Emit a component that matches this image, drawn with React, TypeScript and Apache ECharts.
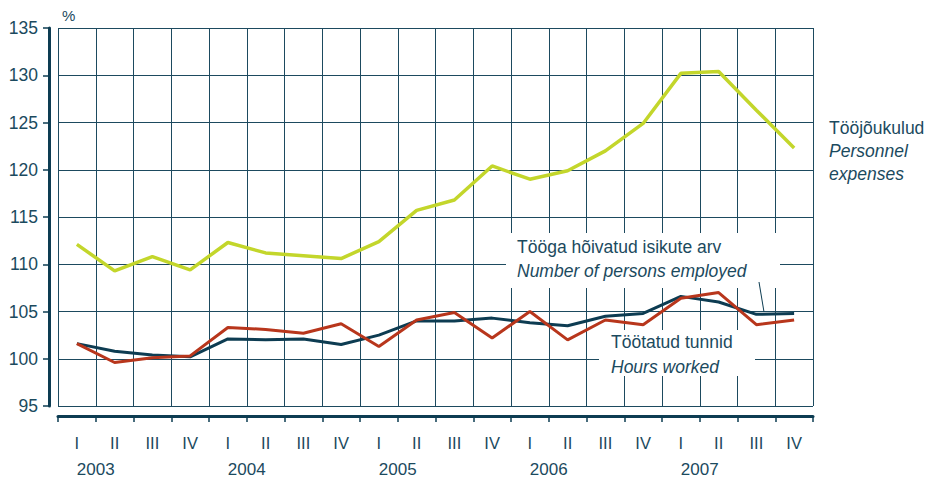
import React, { useEffect, useRef } from "react";
import * as echarts from "echarts";

const quarters = [
  "I", "II", "III", "IV",
  "I", "II", "III", "IV",
  "I", "II", "III", "IV",
  "I", "II", "III", "IV",
  "I", "II", "III", "IV",
];
const years = ["2003", "2004", "2005", "2006", "2007"];
const yTicks = { min: 95, max: 135, interval: 5 };

const personnelExpenses = [
  112.1, 109.3, 110.8, 109.4, 112.3, 111.2, 110.9, 110.6, 112.4, 115.7,
  116.8, 120.4, 119.0, 119.9, 122.0, 124.9, 130.2, 130.4, 126.3, 122.3,
];
const personsEmployed = [
  101.6, 100.8, 100.4, 100.2, 102.1, 102.0, 102.1, 101.5, 102.5, 104.0,
  104.0, 104.3, 103.8, 103.5, 104.5, 104.8, 106.6, 106.0, 104.7, 104.8,
];
const hoursWorked = [
  101.6, 99.6, 100.1, 100.3, 103.3, 103.1, 102.7, 103.7, 101.3, 104.1,
  104.9, 102.2, 105.0, 102.0, 104.1, 103.6, 106.4, 107.0, 103.6, 104.1,
];

const DARK = "#0d3c52";
const TEXT = "#1b4a5e";
const GRID = "#1d4a5f";
const GREEN = "#c3d62b";
const RED = "#b8361c";
const FONT = "'Liberation Sans', Arial, sans-serif";

export default function App() {
  const ref = useRef<HTMLDivElement>(null);

  useEffect(() => {
    document.body.style.margin = "0";
    if (!ref.current) return;
    const chart = echarts.init(ref.current, null, { renderer: "svg" });

    // year labels sit on the boundary after the first quarter of each year
    const boundaries: string[] = [];
    for (let i = 0; i <= quarters.length; i++) boundaries.push("");
    years.forEach((y, i) => {
      boundaries[1 + i * 4] = y;
    });

    const textStyle = (italic: boolean) => ({
      fill: TEXT,
      fontSize: 17.5,
      fontFamily: FONT,
      fontStyle: italic ? "italic" : "normal",
      textVerticalAlign: "middle",
      verticalAlign: "middle",
    });

    chart.setOption({
      animation: false,
      textStyle: { fontFamily: FONT },
      grid: { left: 58, top: 28, width: 755, height: 378 },
      xAxis: [
        {
          type: "category",
          data: quarters,
          boundaryGap: true,
          position: "bottom",
          offset: 10,
          axisLine: { show: true, lineStyle: { color: DARK, width: 3 } },
          axisTick: { show: true, length: 6, interval: 0, lineStyle: { color: DARK, width: 1.5 } },
          axisLabel: { interval: 0, margin: 18, color: TEXT, fontSize: 16.5, fontFamily: FONT },
          splitLine: { show: true, interval: 0, lineStyle: { color: GRID, width: 1 } },
        },
        {
          type: "category",
          data: boundaries,
          boundaryGap: false,
          position: "bottom",
          offset: 10,
          axisLine: { show: false },
          axisTick: { show: false },
          splitLine: { show: false },
          axisLabel: { interval: 0, margin: 45, color: TEXT, fontSize: 17, fontFamily: FONT },
        },
      ],
      yAxis: {
        type: "value",
        min: yTicks.min,
        max: yTicks.max,
        interval: yTicks.interval,
        offset: 9,
        axisLine: { show: true, lineStyle: { color: DARK, width: 3 } },
        axisTick: { show: true, length: 6, lineStyle: { color: DARK, width: 1.5 } },
        axisLabel: { margin: 11, color: TEXT, fontSize: 17.5, fontFamily: FONT },
        splitLine: { show: true, lineStyle: { color: GRID, width: 1 } },
      },
      series: [
        {
          name: "Tööjõukulud",
          type: "line",
          data: personnelExpenses,
          symbol: "none",
          lineStyle: { color: GREEN, width: 3.5 },
          z: 3,
        },
        {
          name: "Tööga hõivatud isikute arv",
          type: "line",
          data: personsEmployed,
          symbol: "none",
          lineStyle: { color: DARK, width: 3 },
          z: 4,
        },
        {
          name: "Töötatud tunnid",
          type: "line",
          data: hoursWorked,
          symbol: "none",
          lineStyle: { color: RED, width: 3 },
          z: 5,
        },
      ],
      graphic: [
        { type: "rect", z: 1, shape: { x: 506, y: 233, width: 274, height: 55 }, style: { fill: "#ffffff" } },
        { type: "rect", z: 1, shape: { x: 599, y: 330, width: 156, height: 46 }, style: { fill: "#ffffff" } },
        { type: "line", z: 6, shape: { x1: 759, y1: 282, x2: 764, y2: 312 }, style: { stroke: DARK, lineWidth: 1 } },
        { type: "text", z: 6, x: 62, y: 15, style: { ...textStyle(false), text: "%", fontSize: 15 } },
        { type: "text", z: 6, x: 517, y: 247, style: { ...textStyle(false), text: "Tööga hõivatud isikute arv" } },
        { type: "text", z: 6, x: 517, y: 271, style: { ...textStyle(true), text: "Number of persons employed" } },
        { type: "text", z: 6, x: 611, y: 342, style: { ...textStyle(false), text: "Töötatud tunnid" } },
        { type: "text", z: 6, x: 611, y: 367, style: { ...textStyle(true), text: "Hours worked" } },
        { type: "text", z: 6, x: 829, y: 128, style: { ...textStyle(false), text: "Tööjõukulud" } },
        { type: "text", z: 6, x: 829, y: 151, style: { ...textStyle(true), text: "Personnel" } },
        { type: "text", z: 6, x: 829, y: 174, style: { ...textStyle(true), text: "expenses" } },
      ],
    });

    return () => chart.dispose();
  }, []);

  return <div ref={ref} style={{ width: 925, height: 479 }} />;
}
